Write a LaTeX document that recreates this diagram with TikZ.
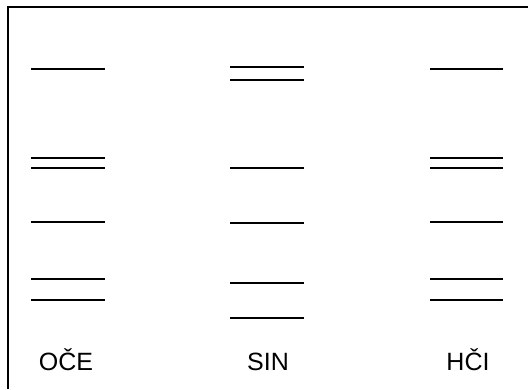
\documentclass[tikz,border=0pt]{standalone}
\usepackage{fontspec}
\setmainfont{Liberation Sans}
\begin{document}
\begin{tikzpicture}[x=1pt,y=-1pt,band/.style={line width=1.6pt},lanetext/.style={anchor=base,inner sep=0pt,font=\fontsize{25}{30}\selectfont}]
\useasboundingbox (0,0) rectangle (528,389);
\draw[line width=1.6pt] (528,7) -- (8,7) -- (8,389);
% otac
\foreach \y in {69,158,168,222,279,300} \draw[band] (31,\y) -- (105,\y);
% sin
\foreach \y in {67,80,168,223,283,318} \draw[band] (230,\y) -- (304,\y);
% kci
\foreach \y in {69,158,168,222,279,300} \draw[band] (430,\y) -- (503,\y);
\node[lanetext] (oce) at (66,370) {OČE};
\node[lanetext] (sin) at (268,370) {SIN};
\node[lanetext] (hci) at (468,370) {HČI};
\end{tikzpicture}
\end{document}
